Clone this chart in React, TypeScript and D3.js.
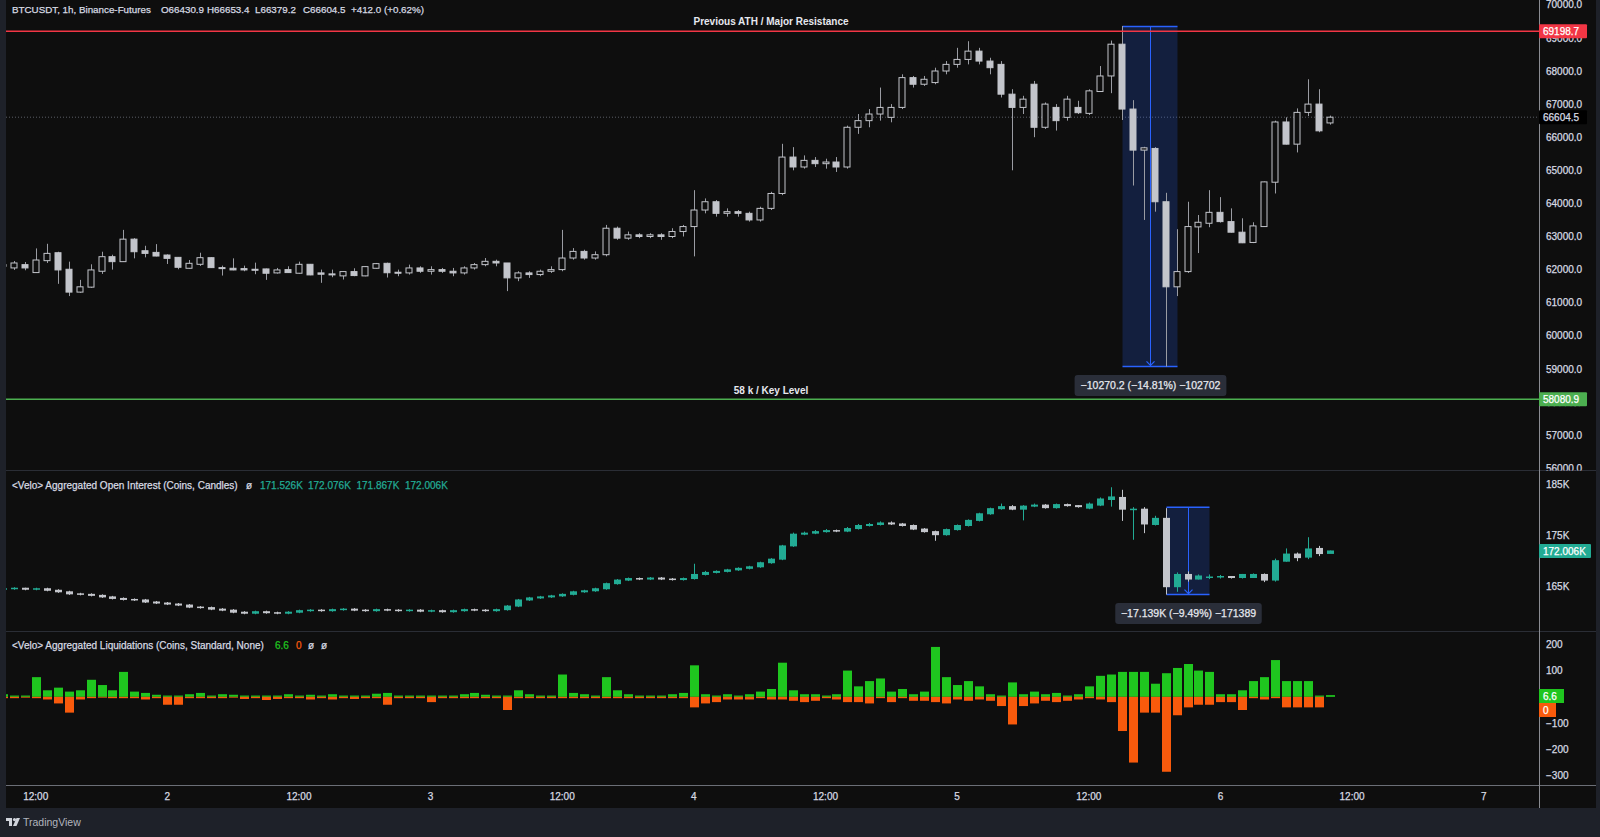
import React from 'react';
import * as d3 from 'd3';

// ---------- DATA (1h candles, first candle = day 1 09:00) ----------
const START_HOUR = 9;

const priceOpen = [62150,62050,62150,61910,62270,62510,62010,61320,61470,61950,62390,62240,62920,62570,62520,62440,62370,62040,62160,62360,62060,62040,62030,62010,62020,61900,62000,61890,62160,61900,61870,61810,61940,61810,62040,62190,61920,
61900,62050,61950,62000,61950,61900,62050,62150,62250,62200,61750,61900,61850,61950,62000,62350,62550,62350,62450,63250,62950,63050,63000,63050,63000,63150,63300,63800,64050,63700,63750,63700,63500,63850,64300,65400,65100,65300,65200,65250,65100,66300,66500,66700,66600,66900,67800,67600,67650,68000,68200,68350,68600,68300,68200,67300,66900,67600,66300,66900,66600,66900,
66720,67380,67850,68810,66850,65610,65660,64050,61480,61940,63290,63400,63730,63450,63130,62820,63300,64640,66460,65790,66750,67000,66430.9];
const priceHigh = [62250,62260,62230,62640,62780,62540,62240,61690,62160,62540,62450,63200,62950,62720,62770,62460,62380,62290,62510,62370,62120,62340,62120,62210,62030,62050,62100,62240,62170,62000,62000,61950,62040,62100,62200,62210,62000,
62150,62100,62100,62050,62050,62100,62200,62350,62300,62200,61950,61950,62000,62100,63200,62650,62600,62550,63350,63300,63150,63100,63100,63100,63250,63350,64400,64150,64100,63850,63800,63750,63900,64350,65800,65700,65450,65400,65350,65400,66350,66700,66850,67500,67000,67900,67850,67850,68100,68300,68700,68900,68700,68400,68300,67450,67250,67700,67050,67000,67250,67100,
67447,68150,68920,69360,67120,65710,65700,64320,63220,64050,63650,64400,64190,63850,63550,63430,64660,66500,66600,66870,67750,67450,66653.4];
const priceLow = [62050,61990,61980,61900,62200,61570,61200,61300,61450,61870,62000,62230,62340,62370,62400,62170,62010,62030,62110,62050,61820,61980,61950,61860,61690,61880,61900,61880,61830,61600,61770,61700,61800,61800,62030,61760,61800,
61850,61900,61850,61900,61800,61850,62000,62100,62100,61350,61650,61750,61800,61900,61950,62300,62300,62300,62400,62900,62900,62950,62950,62900,62950,63000,62400,63700,63600,63600,63600,63450,63450,63800,64250,65000,65050,65100,65050,64950,65050,66100,66300,66500,66450,66850,67500,67550,67600,67900,68100,68200,68200,67900,67200,65000,66700,66000,66250,66200,66500,66700,
66670,67370,67330,66520,64540,63500,63750,59070,61200,61900,62500,63280,63420,63120,62800,62800,63290,64300,65780,65540,66640,66150,66379.2];
const priceClose = [62100,62200,62050,62290,62490,61990,61320,61480,61990,62390,62240,62920,62540,62490,62410,62340,62070,62190,62360,62060,62040,61990,61990,61980,61890,61990,61910,62160,61840,61860,61850,61940,61820,62090,62180,61905,61890,
62050,61950,62000,61950,61900,62050,62150,62250,62200,61750,61900,61850,61950,62000,62350,62550,62350,62450,63250,62950,63050,63000,63050,63000,63150,63300,63800,64050,63700,63750,63700,63500,63850,64300,65400,65100,65300,65200,65250,65100,66300,66500,66700,66900,66900,67800,67600,67750,68000,68200,68350,68600,68300,68100,67300,66900,67150,66300,67000,66500,67150,66740,
67400,67850,68810,66850,65610,65680,64050,61480,61940,63300,63430,63730,63450,63130,62810,63320,64650,66460,65790,66750,67000,66192.5,66604.5];

// Open interest (thousand coins)
const oiClose = [164.6,164.7,164.5,164.6,164.3,164.0,163.6,163.5,163.3,163.0,162.7,162.5,162.4,162.0,161.8,161.6,161.4,161.0,160.9,160.6,160.4,160.0,159.8,160.1,159.9,159.8,160.0,160.3,160.4,160.3,160.5,160.6,160.4,160.3,160.5,160.4,160.3,
160.4,160.2,160.3,160.1,160.3,160.5,160.4,160.3,160.5,161.2,162.4,162.8,163.0,163.2,163.5,164.0,164.2,164.6,165.6,166.3,166.6,166.5,166.7,166.5,166.4,166.6,167.4,167.8,168.0,168.3,168.6,168.9,169.7,170.4,173.0,175.3,175.5,175.8,176.0,175.9,176.4,177.0,177.2,177.5,177.3,177.0,176.3,175.8,175.2,176.2,177.0,178.0,179.3,180.3,180.7,180.2,180.8,181.0,180.5,181.1,180.9,180.7,
181.2,182.2,182.6,180.2,180.2,177.3,178.4,165.0,167.4,166.5,167.1,166.9,167.0,166.8,167.4,167.4,166.3,170.1,171.4,170.7,172.4,171.5,172.006];
const oiOpen = [164.5,164.6,164.7,164.5,164.6,164.3,164.0,163.6,163.5,163.3,163.0,162.7,162.5,162.4,162.0,161.8,161.6,161.4,161.0,160.9,160.6,160.4,160.0,159.8,160.1,159.9,159.8,160.0,160.3,160.4,160.3,160.5,160.6,160.4,160.3,160.5,160.4,
160.3,160.4,160.2,160.3,160.1,160.3,160.5,160.4,160.3,160.5,161.2,162.4,162.8,163.0,163.2,163.5,164.0,164.2,164.6,165.6,166.3,166.6,166.5,166.7,166.5,166.4,166.6,167.4,167.8,168.0,168.3,168.6,168.9,169.7,170.4,173.0,175.3,175.5,175.8,176.0,175.9,176.4,177.0,177.2,177.5,177.3,177.0,176.3,175.8,175.2,176.2,177.0,178.0,179.3,180.3,180.7,180.2,180.8,181.0,180.5,181.1,180.9,
180.4,181.0,182.1,182.5,180.2,180.2,177.2,178.4,165.0,167.4,166.5,166.9,166.9,167.0,166.8,166.8,167.4,166.3,170.0,171.4,170.8,172.5,171.526];
const oiHigh = [164.8,164.9,164.8,164.8,164.8,164.5,164.2,163.8,163.7,163.5,163.2,162.9,162.7,162.6,162.2,162.0,161.8,161.6,161.2,161.1,160.8,160.6,160.2,160.3,160.3,160.1,160.2,160.5,160.6,160.6,160.7,160.8,160.8,160.6,160.7,160.7,160.6,
160.6,160.6,160.5,160.5,160.5,160.7,160.7,160.6,160.7,161.4,162.6,163.0,163.2,163.4,163.7,164.2,164.4,164.8,165.8,166.5,166.8,166.8,166.9,166.9,166.7,166.8,169.5,168.1,168.2,168.5,168.8,169.1,169.9,170.6,173.2,175.6,175.8,176.1,176.3,176.2,176.7,177.3,177.5,177.8,177.8,177.5,177.2,176.5,176.0,176.4,177.2,178.2,179.5,180.5,181.3,181.0,181.0,181.3,181.2,181.3,181.3,181.0,
181.5,182.5,184.5,184.0,180.6,180.6,178.9,180.4,167.8,168.0,167.4,167.4,167.3,167.1,167.5,167.6,167.6,170.5,172.5,171.7,174.7,173.0,172.076];
const oiLow = [164.3,164.4,164.3,164.3,164.1,163.8,163.4,163.3,163.1,162.8,162.5,162.3,162.2,161.8,161.6,161.4,161.2,160.8,160.7,160.4,160.2,159.8,159.6,159.6,159.7,159.6,159.6,159.8,160.1,160.1,160.1,160.3,160.2,160.1,160.1,160.2,160.1,
160.1,160.0,160.0,159.9,159.9,160.1,160.2,160.1,160.1,160.3,161.0,162.2,162.6,162.8,163.0,163.3,163.8,164.0,164.4,165.4,166.1,166.3,166.3,166.3,166.2,166.2,166.4,167.2,167.6,167.8,168.1,168.4,168.7,169.5,170.2,172.8,175.1,175.3,175.6,175.7,175.7,176.2,176.8,177.0,177.1,176.8,176.1,175.6,174.0,175.0,176.0,176.8,177.8,179.1,180.1,180.0,178.0,180.6,180.3,180.3,180.7,180.5,
180.2,180.8,180.7,177.9,174.2,175.5,177.0,163.46,164.0,166.0,166.4,166.5,166.6,166.6,166.6,166.9,165.9,166.0,169.9,170.0,170.4,171.0,171.867];

// Aggregated liquidations (coins): long side (+), short side (-)
const liqUp = [10,5,5,75,25,35,20,25,65,45,25,95,20,15,8,5,5,10,15,5,10,8,5,5,5,5,10,5,8,5,10,5,5,5,12,15,5,
5,5,5,5,5,10,15,8,5,5,25,10,5,5,85,15,10,5,75,25,10,5,5,5,10,15,120,10,5,10,5,10,20,30,130,25,10,10,5,10,100,40,60,70,20,30,10,20,190,75,45,60,40,10,5,55,10,20,10,15,5,10,
40,80,85,95,95,95,50,90,110,125,100,95,10,10,25,60,75,140,60,60,60,5,6.6];
const liqDown = [-5,-5,-3,-5,-10,-25,-60,-10,-5,-3,-5,-5,-5,-10,-5,-30,-30,-5,-5,-5,-5,-3,-8,-5,-12,-8,-5,-5,-10,-5,-10,-5,-8,-5,-5,-30,-5,
-5,-5,-20,-5,-5,-5,-5,-5,-5,-50,-5,-5,-5,-5,-5,-5,-5,-5,-5,-5,-5,-5,-5,-5,-5,-5,-40,-25,-20,-10,-10,-10,-5,-10,-10,-15,-20,-15,-5,-10,-20,-20,-25,-5,-20,-5,-15,-15,-20,-25,-10,-15,-10,-15,-35,-105,-35,-25,-15,-20,-15,-10,
-5,-10,-20,-130,-250,-60,-60,-285,-70,-40,-30,-30,-20,-20,-50,-5,-10,-5,-40,-40,-40,-40,0];

const timeTicks = [12, 24, 36, 48, 60, 72, 84, 96, 108, 120, 132, 144];
const timeLabels = ['12:00', '2', '12:00', '3', '12:00', '4', '12:00', '5', '12:00', '6', '12:00', '7'];
const priceTicks = [56000, 57000, 58000, 59000, 60000, 61000, 62000, 63000, 64000, 65000, 66000, 67000, 68000, 69000, 70000];
const oiTicks = [165, 175, 185];
const liqTicks = [200, 100, -100, -200, -300];

const resistance = 69198.7;
const keyLevel = 58080.9;
const lastPrice = 66604.5;
const lastOI = 172.006;
// measurement tools: [startCandleIndex, endCandleIndex, fromValue, toValue]
const priceMeasure = [102, 107, 69346.3, 59076.1];
const oiMeasure = [106, 110, 180.6, 163.46];

// ---------- STYLE ----------
const BG = '#0e0e0e';
const FRAME = '#1e2129';
const SEP = '#2a2d35';
const TXT = '#d7dae2';
const CANDLE = '#c3c5cb';
const WICK = '#9a9ca3';
const TEAL = '#22ab94';
const GREEN = '#1fc61f';
const ORANGE = '#f85a0c';
const BLUE = '#2962ff';
const FONT = "'Liberation Sans', Arial, sans-serif";
const THICK = 0.25; // faux semi-bold stroke

export default function App() {
  const W = 1600, H = 837;
  const plotL = 6, plotR = 1539;
  const priceTop = 0, priceBot = 470.5;
  const oiTop = 471, oiBot = 631.5;
  const liqTop = 632.5, liqBot = 785;

  const x = d3.scaleLinear().domain([12, 144]).range([35.7, 1483.7]);
  const yP = d3.scaleLinear().domain([56000, 70000]).range([468.2, 4.8]);
  const yO = d3.scaleLinear().domain([165, 185]).range([586.7, 484.7]);
  const yL = d3.scaleLinear().domain([-300, 200]).range([775.7, 644.3]);

  const idx = d3.range(priceOpen.length);
  const cx = (k: number) => Math.round(x(START_HOUR + k));
  const fmt1 = d3.format('.1f');

  const bodyW = 7;

  const priceCandles = idx.map((k) => {
    const o = priceOpen[k], c = priceClose[k], h = priceHigh[k], l = priceLow[k];
    const up = c >= o;
    const X = cx(k);
    const top = yP(Math.max(o, c)), bot = yP(Math.min(o, c));
    return (
      <g key={'p' + k}>
        <line x1={X + 0.5} x2={X + 0.5} y1={yP(h)} y2={yP(l)} stroke={WICK} strokeWidth={1} />
        <rect x={X - 3} y={top} width={bodyW - 1} height={Math.max(1, bot - top)}
          fill={up ? BG : CANDLE} stroke={CANDLE} strokeWidth={1} />
      </g>
    );
  });

  const oiCandles = idx.map((k) => {
    const o = oiOpen[k], c = oiClose[k], h = oiHigh[k], l = oiLow[k];
    const up = c >= o;
    const col = up ? TEAL : CANDLE;
    const X = cx(k);
    const top = yO(Math.max(o, c)), bot = yO(Math.min(o, c));
    return (
      <g key={'o' + k}>
        <line x1={X + 0.5} x2={X + 0.5} y1={yO(h)} y2={yO(l)} stroke={col} strokeWidth={1} />
        <rect x={X - 3} y={top - 0.5} width={bodyW} height={Math.max(1.5, bot - top + 1)} fill={col} />
      </g>
    );
  });

  const liqBars = idx.map((k) => {
    const X = cx(k);
    const g = liqUp[k], r = liqDown[k];
    return (
      <g key={'l' + k}>
        {g > 0 && <rect x={X - 4} y={yL(g)} width={9} height={yL(0) - yL(g)} fill={GREEN} />}
        {r < 0 && <rect x={X - 4} y={yL(0)} width={9} height={yL(r) - yL(0)} fill={ORANGE} />}
      </g>
    );
  });

  const measure = (m: number[], ys: (v: number) => number, label: string, key: string) => {
    const x1 = cx(m[0]) + 0.5, x2 = cx(m[1]) + 0.5;
    const yt = ys(m[2]), yb = ys(m[3]);
    const xm = Math.round((x1 + x2) / 2) + 0.5;
    const tw = label.length * 5.3 + 14;
    return (
      <g key={key}>
        <rect x={x1} y={yt} width={x2 - x1} height={yb - yt} fill={BLUE} fillOpacity={0.2} />
        <line x1={x1} x2={x2} y1={yt} y2={yt} stroke={BLUE} strokeWidth={1.5} />
        <line x1={x1} x2={x2} y1={yb} y2={yb} stroke={BLUE} strokeWidth={1.5} />
        <line x1={xm} x2={xm} y1={yt} y2={yb} stroke={BLUE} strokeWidth={1} />
        <path d={`M${xm - 4},${yb - 5} L${xm},${yb - 1} L${xm + 4},${yb - 5}`} fill="none" stroke={BLUE} strokeWidth={1.2} />
        <rect x={xm - tw / 2} y={yb + 8.5} width={tw} height={21} rx={3} fill="#2a2e39" />
        <text x={xm} y={yb + 22.5} textAnchor="middle" fill="#e6e8ee" stroke="#e6e8ee" strokeWidth={THICK} fontSize={10.5} fontFamily={FONT}>{label}</text>
      </g>
    );
  };

  const axisLabelBox = (y: number, txt: string, fill: string, color: string, w: number, key: string) => (
    <g key={key}>
      <rect x={1539} y={y - 7} width={w} height={14} fill={fill} rx={1} />
      <text x={1543} y={y + 3.6} fill={color} stroke={color} strokeWidth={THICK} fontSize={10} fontFamily={FONT}>{txt}</text>
    </g>
  );

  return (
    <svg width={W} height={H} style={{ position: 'fixed', left: 0, top: 0, display: 'block' }}
      fontFamily={FONT}>
      <defs>
        <clipPath id="cpPrice"><rect x={plotL} y={priceTop} width={plotR - plotL} height={priceBot - priceTop} /></clipPath>
        <clipPath id="cpOI"><rect x={plotL} y={oiTop} width={plotR - plotL} height={oiBot - oiTop} /></clipPath>
        <clipPath id="cpLiq"><rect x={plotL} y={liqTop} width={plotR - plotL} height={liqBot - liqTop} /></clipPath>
        <clipPath id="cpPriceAxis"><rect x={plotR} y={0} width={W - plotR} height={priceBot} /></clipPath>
      </defs>

      <rect x={0} y={0} width={W} height={H} fill={BG} />
      <rect x={0} y={0} width={plotL} height={H} fill={FRAME} />
      <rect x={0} y={808} width={W} height={H - 808} fill={FRAME} />
      <rect x={1596} y={0} width={4} height={H} fill={FRAME} />

      {/* pane separators */}
      <line x1={plotL} x2={1596} y1={470.5} y2={470.5} stroke={SEP} strokeWidth={1} />
      <line x1={plotL} x2={1596} y1={631.5} y2={631.5} stroke={SEP} strokeWidth={1} />
      <line x1={plotL} x2={1596} y1={785.5} y2={785.5} stroke="#6b6e76" strokeWidth={1} />
      <line x1={1539.5} x2={1539.5} y1={0} y2={808} stroke="#8a8c92" strokeWidth={1} />

      {/* price pane */}
      <g clipPath="url(#cpPrice)">
        <line x1={plotL} x2={plotR} y1={yP(lastPrice)} y2={yP(lastPrice)} stroke="#5a5d66" strokeDasharray="1,2" strokeWidth={1} />
        {measure(priceMeasure, yP, '\u221210270.2 (\u221214.81%) \u2212102702', 'mp')}
        {priceCandles}
        <line x1={plotL} x2={plotR} y1={yP(resistance)} y2={yP(resistance)} stroke="#f23645" strokeWidth={1.5} />
        <line x1={plotL} x2={plotR} y1={yP(keyLevel)} y2={yP(keyLevel)} stroke="#4caf50" strokeWidth={1.5} />
        <text x={771} y={yP(resistance) - 6} textAnchor="middle" fill="#e6e8ee" fontSize={10} fontWeight="bold">Previous ATH / Major Resistance</text>
        <text x={771} y={yP(keyLevel) - 5} textAnchor="middle" fill="#e6e8ee" fontSize={10} fontWeight="bold">58 k / Key Level</text>
      </g>
      <text y={12.5} fontSize={9.8} fill={TXT} stroke={TXT} strokeWidth={THICK}>
        <tspan x={12}>BTCUSDT, 1h, Binance-Futures</tspan>
        <tspan x={161}>O66430.9</tspan>
        <tspan x={207}>H66653.4</tspan>
        <tspan x={255}>L66379.2</tspan>
        <tspan x={303}>C66604.5</tspan>
        <tspan x={351}>+412.0 (+0.62%)</tspan>
      </text>

      {/* price axis */}
      <g clipPath="url(#cpPriceAxis)">
        {priceTicks.map((v) => (
          <text key={'pt' + v} x={1546} y={yP(v) + 3.6} fill={TXT} stroke={TXT} strokeWidth={THICK} fontSize={10}>{fmt1(v)}</text>
        ))}
        {axisLabelBox(yP(resistance), fmt1(resistance), '#f23645', '#ffffff', 48, 'r1')}
        {axisLabelBox(yP(lastPrice), fmt1(lastPrice), '#000000', TXT, 48, 'r2')}
        {axisLabelBox(yP(keyLevel), fmt1(keyLevel), '#4caf50', '#ffffff', 48, 'r3')}
      </g>

      {/* OI pane */}
      <g clipPath="url(#cpOI)">
        {measure(oiMeasure, yO, '\u221217.139K (\u22129.49%) \u2212171389', 'mo')}
        {oiCandles}
      </g>
      <text y={488.5} fontSize={10} fill={TXT} stroke={TXT} strokeWidth={THICK}>
        <tspan x={12}>{'<Velo> Aggregated Open Interest (Coins, Candles)'}</tspan>
        <tspan x={246}>ø</tspan>
        <tspan x={260} fill={TEAL} stroke={TEAL}>171.526K</tspan>
        <tspan x={308} fill={TEAL} stroke={TEAL}>172.076K</tspan>
        <tspan x={356.5} fill={TEAL} stroke={TEAL}>171.867K</tspan>
        <tspan x={405} fill={TEAL} stroke={TEAL}>172.006K</tspan>
      </text>
      {oiTicks.map((v) => (
        <text key={'ot' + v} x={1546} y={yO(v) + 3.6} fill={TXT} stroke={TXT} strokeWidth={THICK} fontSize={10}>{v}K</text>
      ))}
      {axisLabelBox(yO(lastOI), '172.006K', TEAL, '#ffffff', 52, 'o1')}

      {/* liquidation pane */}
      <g clipPath="url(#cpLiq)">
        {liqBars}
      </g>
      <text y={648.5} fontSize={10} fill={TXT} stroke={TXT} strokeWidth={THICK}>
        <tspan x={12}>{'<Velo> Aggregated Liquidations (Coins, Standard, None)'}</tspan>
        <tspan x={275} fill={GREEN} stroke={GREEN}>6.6</tspan>
        <tspan x={296} fill={ORANGE} stroke={ORANGE}>0</tspan>
        <tspan x={308}>ø</tspan>
        <tspan x={321}>ø</tspan>
      </text>
      {liqTicks.map((v) => (
        <text key={'lt' + v} x={1546} y={yL(v) + 3.6} fill={TXT} stroke={TXT} strokeWidth={THICK} fontSize={10}>{v < 0 ? '\u2212' + Math.abs(v) : v}</text>
      ))}
      <rect x={1539} y={689} width={25} height={14} fill={GREEN} />
      <text x={1543} y={699.5} fill="#ffffff" stroke="#ffffff" strokeWidth={THICK} fontSize={10}>6.6</text>
      <rect x={1539} y={703} width={17} height={14} fill={ORANGE} />
      <text x={1543} y={713.5} fill="#ffffff" stroke="#ffffff" strokeWidth={THICK} fontSize={10}>0</text>

      {/* time axis */}
      {timeTicks.map((h, i) => (
        <text key={'tt' + i} x={x(h)} y={800} textAnchor="middle" fill={TXT} stroke={TXT} strokeWidth={THICK} fontSize={10}>{timeLabels[i]}</text>
      ))}

      {/* footer */}
      <g transform="translate(6,818)">
        <path d="M0,0 H6 V8 H3 V3 H0 Z" fill="#d1d4dc" />
        <circle cx={8.5} cy={1.6} r={1.6} fill="#d1d4dc" />
        <path d="M10.5,0 H14 L10.5,8 H7 Z" fill="#d1d4dc" />
      </g>
      <text x={23} y={826} fill="#b2b5be" fontSize={10.5}>TradingView</text>
    </svg>
  );
}
